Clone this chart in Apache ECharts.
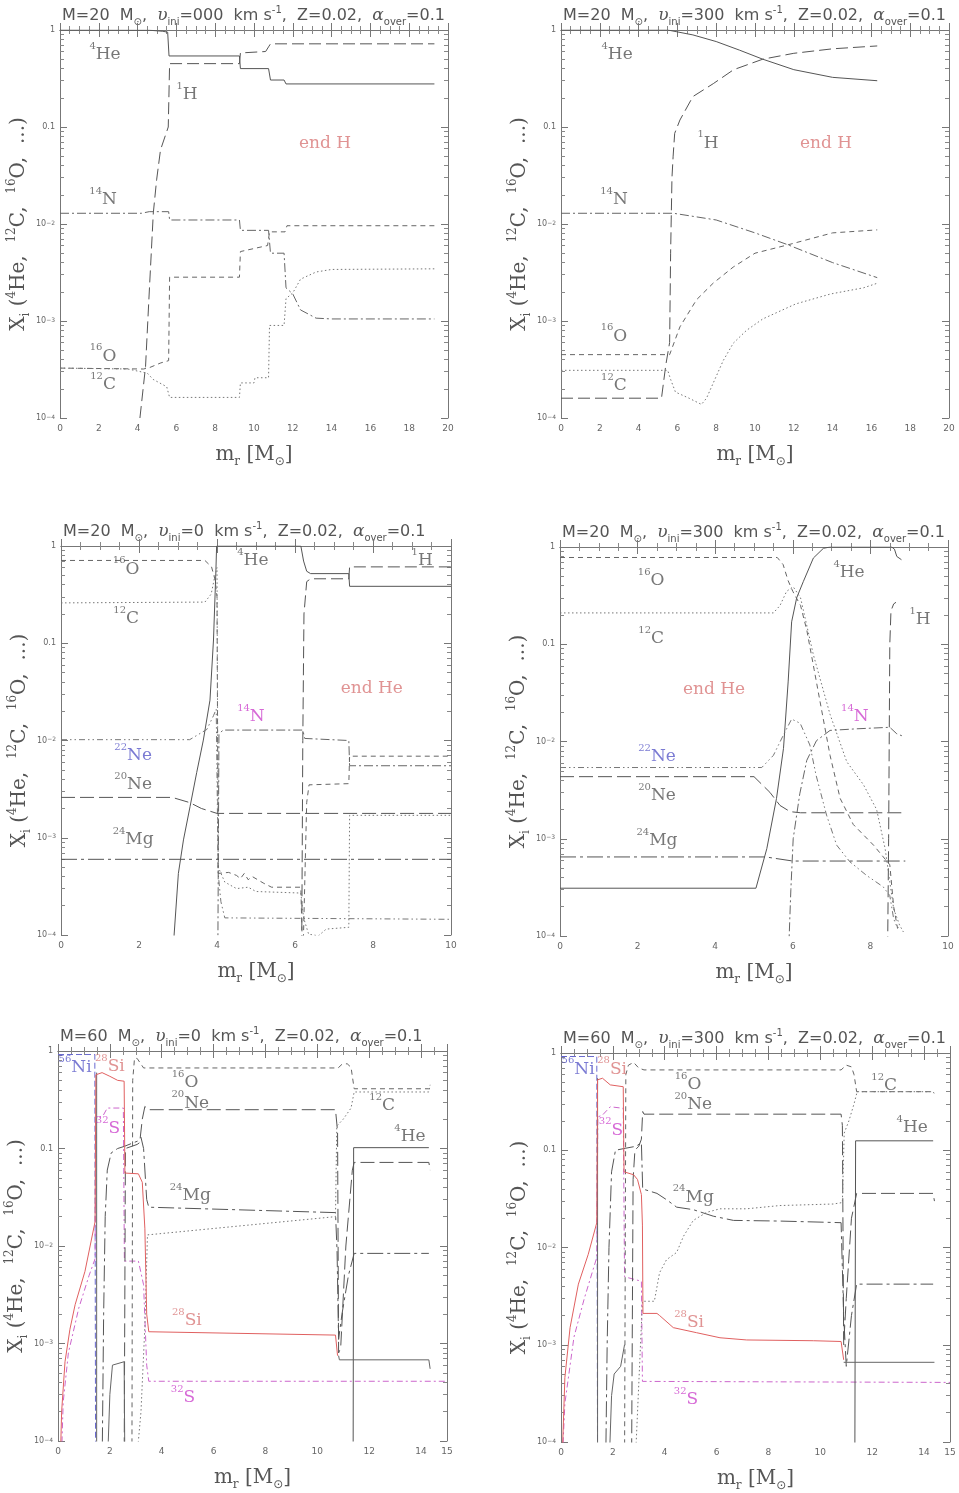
<!DOCTYPE html>
<html><head><meta charset="utf-8">
<script src="https://cdn.jsdelivr.net/npm/echarts@6/dist/echarts.min.js"></script>
<style>html,body{margin:0;padding:0;background:#fff}#c{width:959px;height:1493px}</style>
</head><body><div id="c"></div>
<script>
// ---------- Panel 1: M=20, v=0, end H ----------
const p1_He4 = [[0,1],[4.6,0.995],[5.3,0.97],[5.55,0.95],[5.62,0.54],[9.25,0.54],[9.3,0.4],[10.75,0.4],[10.85,0.305],[11.55,0.305],[11.65,0.278],[19.3,0.278]];
const p1_H1 = [[4.12,1e-4],[4.41,3.4e-4],[4.58,1.65e-3],[4.81,0.013],[4.98,0.0285],[5.18,0.058],[5.58,0.1],[5.65,0.45],[9.25,0.45],[9.3,0.58],[10.6,0.6],[10.75,0.67],[10.85,0.72],[19.3,0.72]];
const p1_N14 = [[0,0.0129],[4.2,0.0129],[4.6,0.0134],[5.6,0.0134],[5.65,0.011],[9.25,0.011],[9.3,0.0086],[10.75,0.0086],[10.85,0.005],[11.55,0.005],[11.65,0.0022],[12.0,0.0019],[12.4,0.0013],[13.2,0.00107],[14,0.00105],[19.3,0.00105]];
const p1_O16 = [[0,3.27e-4],[4.3,3.2e-4],[4.6,3.3e-4],[5.2,3.7e-4],[5.6,3.9e-4],[5.65,2.83e-3],[9.25,2.83e-3],[9.3,5.2e-3],[10.7,6e-3],[10.8,8.3e-3],[11.6,8.3e-3],[11.7,9.6e-3],[19.3,9.6e-3]];
const p1_C12 = [[0,3.27e-4],[3.5,3.2e-4],[4.5,2.9e-4],[4.8,2.5e-4],[5.5,2.1e-4],[5.65,1.63e-4],[9.25,1.63e-4],[9.3,2.3e-4],[10,2.3e-4],[10.05,2.6e-4],[10.75,2.6e-4],[10.8,9e-4],[11.55,9e-4],[11.65,1.7e-3],[12.0,1.95e-3],[12.4,2.7e-3],[13.2,3.2e-3],[14,3.4e-3],[19.3,3.45e-3]];
const p1_labels = [[2.32,0.59,'4He','g'],[6.55,0.23,'1H','g'],[13.66,0.072,'end H','r'],[2.22,0.019,'14N','g'],[2.22,4.6e-4,'16O','g'],[2.22,2.35e-4,'12C','g']];

// ---------- Panel 2: M=20, v=300, end H ----------
const p2_He4 = [[0,1],[5.5,1],[6.8,0.89],[8,0.76],[9.2,0.62],[10.4,0.5],[12,0.39],[14,0.325],[16.3,0.3]];
const p2_H1 = [[0,1.6e-4],[5.18,1.6e-4],[5.4,3.5e-4],[5.6,6e-4],[5.65,5e-3],[5.72,0.03],[5.78,0.05],[5.86,0.086],[6.13,0.118],[6.8,0.206],[7.85,0.28],[8.9,0.39],[10.4,0.5],[12,0.575],[14,0.64],[16.3,0.685]];
const p2_N14 = [[0,0.0129],[5.8,0.0129],[8,0.011],[10,0.0081],[11.7,0.0061],[14,0.004],[16.3,0.0028]];
const p2_O16 = [[0,4.5e-4],[5.6,4.5e-4],[6.13,8.7e-4],[6.99,1.66e-3],[7.85,2.46e-3],[8.88,3.6e-3],[10,5e-3],[11.7,6.1e-3],[14,8.1e-3],[16.3,8.7e-3]];
const p2_C12 = [[0,3.1e-4],[5.5,3.1e-4],[5.65,2.5e-4],[5.9,1.85e-4],[6.6,1.6e-4],[7.24,1.38e-4],[7.5,1.6e-4],[7.85,2.3e-4],[8.36,3.9e-4],[8.88,5.9e-4],[9.56,8e-4],[10.4,1.05e-3],[12.1,1.5e-3],[13.9,1.9e-3],[15.6,2.2e-3],[16.3,2.45e-3]];
const p2_labels = [[2.89,0.59,'4He','g'],[7.58,0.072,'1H','g'],[13.66,0.072,'end H','r'],[2.73,0.019,'14N','g'],[2.73,7.4e-4,'16O','g'],[2.73,2.3e-4,'12C','g']];

// ---------- Panel 3: M=20, v=0, end He ----------
const p3_He4 = [[2.9,5e-5],[2.9,1e-4],[3.01,4.3e-4],[3.14,9.5e-4],[3.31,2.1e-3],[3.48,4.7e-3],[3.65,0.0101],[3.82,0.026],[3.91,0.108],[3.97,0.53],[3.99,1],[6.15,1],[6.22,0.7],[6.3,0.55],[6.4,0.52],[7.38,0.52],[7.4,0.385],[10,0.385]];
const p3_H1 = [[6.17,5e-5],[6.2,0.01],[6.23,0.2],[6.3,0.43],[6.4,0.46],[7.38,0.46],[7.4,0.61],[10,0.61]];
const p3_O16 = [[0,0.71],[3.69,0.71],[3.86,0.61],[3.95,0.45],[4.0,0.3],[4.03,4.3e-4],[4.3,4.4e-4],[4.5,4.1e-4],[4.6,3.8e-4],[4.7,4.3e-4],[4.8,3.7e-4],[4.9,4e-4],[5.2,3.4e-4],[5.4,3.1e-4],[6.15,3.1e-4],[6.2,5e-5],[6.3,2.3e-3],[6.36,3.5e-3],[7.38,3.6e-3],[7.4,6.9e-3],[10,6.9e-3]];
const p3_C12 = [[0,0.26],[3.69,0.265],[3.85,0.32],[3.95,0.5],[4.0,0.6],[4.03,5e-4],[4.2,3.5e-4],[4.5,3e-4],[4.8,3.1e-4],[5.0,2.8e-4],[6.15,2.7e-4],[6.22,1.5e-4],[6.35,1.02e-4],[6.6,9.8e-5],[6.8,1.15e-4],[7.38,1.2e-4],[7.4,1.7e-3],[10,1.7e-3]];
const p3_Ne22 = [[0,0.0102],[3.3,0.0102],[3.74,0.013],[3.91,0.018],[3.98,0.021],[4.03,4.3e-4],[4.1,2.2e-4],[4.2,1.5e-4],[10,1.45e-4]];
const p3_N14 = [[4.02,5e-5],[4.05,0.0115],[4.15,0.0128],[6.2,0.0128],[6.25,0.0105],[7.38,0.01],[7.4,5.5e-3],[10,5.5e-3]];
const p3_Ne20 = [[0,2.6e-3],[2.85,2.6e-3],[3.3,2.3e-3],[3.6,2.0e-3],[4.0,1.78e-3],[10,1.78e-3]];
const p3_Mg24 = [[0,6e-4],[10,6e-4]];
const p3_labels = [[1.67,0.61,'16O','g'],[1.67,0.19,'12C','g'],[4.92,0.75,'4He','g'],[9.26,0.75,'1H','g'],[7.97,0.036,'end He','r'],[4.87,0.0187,'14N','m'],[1.85,7.4e-3,'22Ne','b'],[1.85,3.7e-3,'20Ne','g'],[1.85,1.02e-3,'24Mg','g']];

// ---------- Panel 4: M=20, v=300, end He ----------
const p4_He4 = [[0,3.1e-4],[5.05,3.1e-4],[5.33,7.9e-4],[5.58,2.6e-3],[5.76,8.5e-3],[5.88,0.041],[5.97,0.17],[6.1,0.3],[6.27,0.44],[6.53,0.77],[6.79,0.97],[6.96,1],[8.55,1],[8.62,0.95],[8.68,0.8],[8.8,0.74]];
const p4_H1 = [[8.44,5e-5],[8.47,1e-3],[8.5,0.1],[8.53,0.22],[8.6,0.26],[8.66,0.27]];
const p4_O16 = [[0,0.78],[5.6,0.78],[5.75,0.66],[5.88,0.45],[6.0,0.35],[6.2,0.25],[6.36,0.14],[6.55,0.055],[6.7,0.026],[6.96,7.2e-3],[7.22,2.6e-3],[7.56,1.4e-3],[8.08,8.6e-4],[8.5,5.4e-4],[8.6,2e-4],[8.7,1.2e-4],[8.8,1.3e-4]];
const p4_C12 = [[0,0.21],[5.5,0.21],[5.67,0.25],[5.84,0.35],[6.01,0.39],[6.2,0.3],[6.53,0.078],[6.96,0.019],[7.39,6.2e-3],[7.82,3.6e-3],[8.16,2.0e-3],[8.38,7.9e-4],[8.5,3.6e-4],[8.6,1.9e-4],[8.75,1.3e-4],[8.85,1.1e-4]];
const p4_Ne22 = [[0,5.4e-3],[5.2,5.4e-3],[5.5,7.2e-3],[5.76,0.0117],[5.97,0.017],[6.19,0.0154],[6.44,9.2e-3],[6.6,4.5e-3],[6.87,1.75e-3],[7.13,8.6e-4],[7.47,5.8e-4],[7.9,4.2e-4],[8.33,3.2e-4],[8.5,2.6e-4],[8.6,1.5e-4],[8.7,1.2e-4]];
const p4_Ne20 = [[0,4.35e-3],[5.0,4.35e-3],[5.41,3.0e-3],[5.67,2.2e-3],[5.93,1.9e-3],[6.2,1.85e-3],[8.9,1.85e-3]];
const p4_Mg24 = [[0,6.5e-4],[5.3,6.5e-4],[6.0,5.9e-4],[8.9,5.9e-4]];
const p4_N14 = [[5.88,5e-5],[5.95,3e-4],[6.01,1e-3],[6.18,2.9e-3],[6.36,6.4e-3],[6.61,0.0102],[6.96,0.013],[7.64,0.0135],[8.5,0.014],[8.68,0.012],[8.85,0.0113]];
const p4_labels = [[2.35,0.48,'16O','g'],[2.35,0.121,'12C','g'],[7.45,0.58,'4He','g'],[9.28,0.19,'1H','g'],[3.97,0.036,'end He','r'],[7.6,0.019,'14N','m'],[2.5,7.4e-3,'22Ne','b'],[2.5,2.95e-3,'20Ne','g'],[2.5,1.02e-3,'24Mg','g']];

// ---------- Panel 5: M=60, v=0 ----------
const p5_Ni56 = [[0,0.92],[1.42,0.92],[1.45,5e-5]];
const p5_Si28 = [[0.08,5e-5],[0.14,2e-4],[0.27,6.5e-4],[0.46,1.4e-3],[0.66,2.5e-3],[1.04,5.5e-3],[1.43,0.0178],[1.46,0.57],[1.7,0.6],[2.0,0.55],[2.3,0.5],[2.55,0.49],[2.58,0.056],[3.1,0.055],[3.25,0.045],[3.35,0.015],[3.42,2e-3],[3.5,1.32e-3],[10.7,1.22e-3],[10.78,7.5e-4]];
const p5_S32 = [[0.12,5e-5],[0.2,2.5e-4],[0.4,8e-4],[0.8,2.3e-3],[1.2,5e-3],[1.43,7.4e-3],[1.46,0.2],[1.6,0.21],[1.75,0.22],[1.9,0.26],[2.52,0.26],[2.56,7e-3],[3.1,7e-3],[3.3,4e-3],[3.42,6e-4],[3.5,4.1e-4],[15,4.1e-4]];
const p5_O16 = [[2.85,5e-5],[2.88,0.5],[2.95,0.84],[3.05,0.84],[3.3,0.67],[10.8,0.67],[10.95,0.73],[11.15,0.74],[11.3,0.68],[11.42,0.41],[14.3,0.41]];
const p5_Ne20 = [[2.55,5e-5],[2.6,0.1],[3.05,0.11],[3.15,0.115],[3.25,0.2],[3.35,0.27],[3.5,0.25],[10.7,0.25],[10.78,0.15],[10.82,8e-4],[10.9,9e-4],[11.1,0.01],[11.35,0.06],[11.42,0.072],[14.3,0.072],[14.35,0.06]];
const p5_Mg24 = [[1.7,5e-5],[1.76,2e-3],[1.82,0.02],[1.9,0.06],[2.05,0.09],[2.3,0.1],[2.55,0.105],[2.6,0.11],[3.1,0.12],[3.2,0.13],[3.3,0.1],[3.42,0.03],[3.5,0.025],[10.7,0.022],[10.76,0.009],[10.82,1.1e-3],[10.95,2e-3],[11.2,5e-3],[11.42,8.4e-3],[14.3,8.4e-3]];
const p5_C12 = [[3.0,5e-5],[3.2,2e-4],[3.35,1.5e-3],[3.45,0.013],[3.5,0.0135],[10.7,0.02],[10.75,0.17],[11.0,0.2],[11.3,0.26],[11.42,0.38],[14.3,0.38],[14.35,0.45]];
const p5_He4 = [[11.38,5e-5],[11.4,0.102],[14.3,0.102]];
const p5_Xa = [[1.9,5e-5],[2.0,3e-4],[2.1,6e-4],[2.55,6.5e-4],[2.58,5e-5]];
const p5_Xb = [[10.82,7.5e-4],[10.85,6.8e-4],[14.3,6.8e-4],[14.35,5.5e-4]];
const p5_Xc = [[1.49,5e-5],[1.49,0.6]];
const p5_labels = [[0.66,0.72,'56Ni','b'],[2.0,0.73,'28Si','r'],[4.9,0.5,'16O','g'],[5.1,0.31,'20Ne','g'],[1.93,0.17,'32S','m'],[12.5,0.29,'12C','g'],[13.57,0.14,'4He','g'],[5.1,0.035,'24Mg','g'],[4.97,1.83e-3,'28Si','r'],[4.82,2.95e-4,'32S','m']];

// ---------- Panel 6: M=60, v=300 ----------
const p6_Ni56 = [[0,0.92],[1.38,0.92],[1.41,5e-5]];
const p6_Si28 = [[0.03,5e-5],[0.15,4.6e-4],[0.35,1.5e-3],[0.67,4.2e-3],[1.05,8.5e-3],[1.38,0.018],[1.41,0.53],[1.6,0.55],[1.9,0.47],[2.4,0.45],[2.43,0.06],[2.8,0.056],[2.95,0.05],[3.1,0.035],[3.14,0.017],[3.16,2.1e-3],[3.7,2.1e-3],[3.8,2e-3],[4.33,1.5e-3],[5.23,1.33e-3],[6.13,1.18e-3],[7.16,1.12e-3],[9.73,1.1e-3],[10.8,1.08e-3],[10.9,7e-4]];
const p6_S32 = [[0.03,5e-5],[0.15,2.5e-4],[0.5,1.2e-3],[0.9,3e-3],[1.2,5.5e-3],[1.38,7.9e-3],[1.42,0.22],[1.6,0.23],[1.9,0.28],[2.4,0.27],[2.45,5e-3],[3.1,4.5e-3],[3.14,4.2e-4],[15,4.1e-4]];
const p6_O16 = [[2.45,5e-5],[2.5,0.6],[2.6,0.75],[2.8,0.8],[3.0,0.7],[3.2,0.67],[10.8,0.67],[11.0,0.75],[11.2,0.72],[11.3,0.6],[11.4,0.4],[14.35,0.4]];
const p6_Ne20 = [[2.72,5e-5],[2.78,0.05],[2.85,0.1],[3.0,0.11],[3.1,0.13],[3.15,0.25],[3.2,0.235],[10.8,0.235],[10.85,0.18],[10.9,1e-3],[11.0,3e-3],[11.2,0.02],[11.4,0.036],[14.35,0.036],[14.4,0.03]];
const p6_Mg24 = [[1.72,5e-5],[1.78,1e-3],[1.85,0.01],[1.95,0.06],[2.1,0.1],[2.5,0.105],[2.9,0.11],[3.1,0.12],[3.15,0.04],[3.7,0.036],[4.07,0.031],[4.46,0.026],[5.1,0.0245],[5.87,0.021],[6.65,0.019],[8.44,0.0187],[10.8,0.018],[10.9,2e-3],[11.0,6e-4],[11.2,2e-3],[11.4,4.2e-3],[14.35,4.2e-3]];
const p6_C12 = [[2.85,5e-5],[2.95,2e-4],[3.05,8e-4],[3.14,2.8e-3],[3.6,2.8e-3],[3.8,5.5e-3],[4.07,7.5e-3],[4.46,8.9e-3],[4.72,0.013],[5.1,0.019],[5.62,0.023],[6.13,0.025],[7.16,0.025],[8.44,0.027],[10.5,0.028],[10.85,0.029],[10.92,0.15],[11.1,0.2],[11.3,0.3],[11.42,0.4],[14.35,0.4],[14.4,0.38]];
const p6_He4 = [[11.33,5e-5],[11.36,0.125],[14.35,0.125]];
const p6_Xa = [[1.85,5e-5],[1.95,3e-4],[2.05,5e-4],[2.3,6e-4],[2.45,1e-3]];
const p6_Xb = [[10.9,6.6e-4],[14.4,6.6e-4]];
const p6_Xc = [[1.41,5e-5],[1.41,0.55]];
const p6_labels = [[0.66,0.72,'56Ni','b'],[1.97,0.72,'28Si','r'],[4.9,0.5,'16O','g'],[5.1,0.31,'20Ne','g'],[1.93,0.17,'32S','m'],[12.46,0.49,'12C','g'],[13.54,0.18,'4He','g'],[5.1,0.035,'24Mg','g'],[4.94,1.78e-3,'28Si','r'],[4.82,2.9e-4,'32S','m']];

// ---------- panel headings / axes ----------
const masses = [20,20,20,20,60,60];
const vinis = ['000','300','0','300','0','300'];
const xMaxes = [20,20,10,10,15,15];

// ---------- styles ----------
const STY = {
  He4:{color:'#555',type:'solid'},
  H1:{color:'#555',type:[12,5]},
  O16:{color:'#666',type:[5,4]},
  C12:{color:'#777',type:[1.5,2.5]},
  N14:{color:'#666',type:[9,3,2,3]},
  Ne22:{color:'#777',type:[6,3,1.5,3,1.5,3]},
  Ne20:{color:'#555',type:[14,5]},
  Mg24:{color:'#555',type:[16,4,3,4]},
  Si28:{color:'#e06060',type:'solid'},
  S32:{color:'#cc66cc',type:[6,3,2,3]},
  Ni56:{color:'#6a6ad0',type:[6,3]},
  X:{color:'#666',type:'solid'}
};
const boxes = [[60,30,388,388],[561,30,388,388],[61,546,390,389],[560,547,388,389],[58,1051,389,390],[561,1053,389,390]];
const panelSeries = [
  [['He4',p1_He4],['H1',p1_H1],['N14',p1_N14],['O16',p1_O16],['C12',p1_C12]],
  [['He4',p2_He4],['H1',p2_H1],['N14',p2_N14],['O16',p2_O16],['C12',p2_C12]],
  [['He4',p3_He4],['H1',p3_H1],['O16',p3_O16],['C12',p3_C12],['Ne22',p3_Ne22],['N14',p3_N14],['Ne20',p3_Ne20],['Mg24',p3_Mg24]],
  [['He4',p4_He4],['H1',p4_H1],['O16',p4_O16],['C12',p4_C12],['Ne22',p4_Ne22],['Ne20',p4_Ne20],['Mg24',p4_Mg24],['N14',p4_N14]],
  [['Ni56',p5_Ni56],['S32',p5_S32],['O16',p5_O16],['Ne20',p5_Ne20],['Mg24',p5_Mg24],['C12',p5_C12],['He4',p5_He4],['X',p5_Xa],['X',p5_Xb],['X',p5_Xc],['Si28',p5_Si28]],
  [['Ni56',p6_Ni56],['S32',p6_S32],['O16',p6_O16],['Ne20',p6_Ne20],['Mg24',p6_Mg24],['C12',p6_C12],['He4',p6_He4],['X',p6_Xa],['X',p6_Xb],['X',p6_Xc],['Si28',p6_Si28]]
];
const panelLabels = [p1_labels,p2_labels,p3_labels,p4_labels,p5_labels,p6_labels];

const LBLCOL = {g:'#555',r:'#d87878',m:'#cc44cc',b:'#5a5ac8'};
const labelRich = {};
Object.keys(LBLCOL).forEach(k=>{
  labelRich['t'+k] = {fontFamily:'DejaVu Serif',fontSize:17,color:LBLCOL[k],lineHeight:22,verticalAlign:'bottom'};
  labelRich['p'+k] = {fontFamily:'DejaVu Serif',fontSize:10,color:LBLCOL[k],lineHeight:10,verticalAlign:'top'};
});
function fmtLabel(name,k){
  const m = /^(\d+)(.*)$/.exec(name);
  if(m) return '{p'+k+'|'+m[1]+'}{t'+k+'|'+m[2]+'}';
  return '{t'+k+'|'+name+'}';
}

const minorLog = [];
for(let e=-4;e<0;e++){for(let k=2;k<=9;k++){minorLog.push(e+Math.log10(k));}}

const axisLine = {show:true,lineStyle:{color:'#777',width:1}};
const nameRich = {
  t:{fontFamily:'DejaVu Serif',fontSize:20,color:'#555',lineHeight:26},
  b:{fontFamily:'DejaVu Serif',fontSize:12,color:'#555',lineHeight:12,verticalAlign:'bottom'},
  p:{fontFamily:'DejaVu Serif',fontSize:12,color:'#555',lineHeight:12,verticalAlign:'top'},
  s:{fontFamily:'DejaVu Sans',fontSize:12,color:'#555',lineHeight:12,verticalAlign:'bottom'}
};

const grids=[],xAxes=[],yAxes=[],series=[],graphics=[];
boxes.forEach((b,i)=>{
  const [l,t,w,h]=b;
  grids.push({left:l,top:t,width:w,height:h,show:false});
  const xTick = {show:true,inside:true,length:7,lineStyle:{color:'#777'}};
  const xMinor = {show:true,splitNumber:4,length:4,lineStyle:{color:'#888'}};
  xAxes.push({gridIndex:i,type:'value',min:0,max:xMaxes[i],interval:2,position:'bottom',axisLine,axisTick:xTick,minorTick:xMinor,
    splitLine:{show:false},minorSplitLine:{show:false},
    axisLabel:{fontSize:9,color:'#666',margin:6,fontFamily:'DejaVu Sans'},
    name:'{t|m}{b|r}{t| [M}{s|⊙}{t|]}',nameLocation:'middle',nameGap:24,nameTextStyle:{rich:nameRich}});
  xAxes.push({gridIndex:i,type:'value',min:0,max:xMaxes[i],interval:2,position:'top',axisLine,axisTick:xTick,minorTick:xMinor,
    splitLine:{show:false},minorSplitLine:{show:false},axisLabel:{show:false}});
  const yTick = {show:true,inside:true,length:7,lineStyle:{color:'#777'}};
  const yLab = {fontSize:8,color:'#666',margin:5,fontFamily:'DejaVu Sans',
    formatter:v=>{const n=Math.round(Math.log10(v)); if(n===0) return '1'; if(n===-1) return '0.1'; return '10{p|−'+(-n)+'}';},
    rich:{p:{fontSize:6,color:'#666',verticalAlign:'top',lineHeight:6}}};
  yAxes.push({gridIndex:i,type:'log',logBase:10,min:1e-4,max:1,position:'left',axisLine,axisTick:yTick,axisLabel:yLab,splitLine:{show:false},
    name:'{t|X}{b|i}{t| (}{p|4}{t|He,  }{p|12}{t|C,  }{p|16}{t|O,  ...)}',nameLocation:'middle',nameRotate:90,nameGap:19,nameTextStyle:{rich:nameRich}});
  yAxes.push({gridIndex:i,type:'value',min:-4,max:0,position:'left',axisLine:{show:false},axisLabel:{show:false},splitLine:{show:false},
    axisTick:{show:true,inside:true,length:4,customValues:minorLog,lineStyle:{color:'#888'}}});
  yAxes.push({gridIndex:i,type:'log',logBase:10,min:1e-4,max:1,position:'right',axisLine,axisTick:yTick,axisLabel:{show:false},splitLine:{show:false}});
  yAxes.push({gridIndex:i,type:'value',min:-4,max:0,position:'right',axisLine:{show:false},axisLabel:{show:false},splitLine:{show:false},
    axisTick:{show:true,inside:true,length:4,customValues:minorLog,lineStyle:{color:'#888'}}});

  panelSeries[i].forEach(([sp,data])=>{
    const st=STY[sp];
    series.push({type:'line',name:sp,xAxisIndex:2*i,yAxisIndex:4*i,data:data,showSymbol:false,symbol:'none',clip:true,silent:true,animation:false,
      lineStyle:{color:st.color,type:st.type,width:1}});
  });
  series.push({type:'scatter',xAxisIndex:2*i,yAxisIndex:4*i,symbolSize:1,itemStyle:{color:'rgba(0,0,0,0)'},silent:true,animation:false,z:10,
    data:panelLabels[i].map(a=>({value:[a[0],a[1]],name:a[2],ck:a[3]})),
    label:{show:true,position:'inside',formatter:p=>fmtLabel(p.name,p.data.ck),rich:labelRich}});

  graphics.push({type:'text',left:l+2,top:t-25,silent:true,
    style:{text:'M='+masses[i]+'  M{sun|⊙},  {it|υ}{sub|ini}='+vinis[i]+'  km s{sup|-1},  Z=0.02,  {it|α}{sub|over}=0.1',
      fill:'#555',fontFamily:'DejaVu Sans',fontSize:16,
      rich:{sun:{fontSize:10,fill:'#555',fontFamily:'DejaVu Sans',verticalAlign:'bottom',lineHeight:10},
            sub:{fontSize:10,fill:'#555',fontFamily:'DejaVu Sans',verticalAlign:'bottom',lineHeight:10},
            sup:{fontSize:10,fill:'#555',fontFamily:'DejaVu Sans',verticalAlign:'top',lineHeight:10},
            it:{fontSize:17,fill:'#555',fontFamily:'DejaVu Serif',fontStyle:'italic',lineHeight:22}}}});
});

const chart = echarts.init(document.getElementById('c'),null,{renderer:'canvas',width:959,height:1493});
chart.setOption({animation:false,backgroundColor:'#fff',grid:grids,xAxis:xAxes,yAxis:yAxes,series:series,graphic:graphics});
</script></body></html>
